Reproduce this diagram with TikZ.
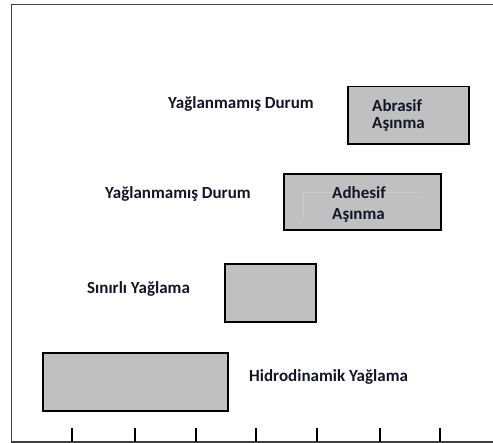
\documentclass[tikz,border=0pt]{standalone}
\usepackage{fontspec}
\setmainfont{Carlito}
\definecolor{boxgray}{HTML}{C0C0C0}
\definecolor{txt}{HTML}{141428}
\begin{document}
\begin{tikzpicture}[x=1pt,y=-1pt,
  bar/.style={draw=black,line width=1.4pt,fill=boxgray},
  lbl/.style={font=\fontsize{17}{19}\selectfont\bfseries,text=txt,inner sep=0pt,anchor=west},
  frame/.style={draw=black!75,line width=1.3pt},
  tick/.style={draw=black,line width=1.1pt}]
\useasboundingbox (0,0) rectangle (493,443);
% frame
\draw[frame] (493,4.5) -- (11.5,4.5) -- (11.5,442) -- (493,442);
% ticks
\foreach \x in {72,135,196,256,317,380,440}
  \draw[tick] (\x,428) -- (\x,442);
% boxes
\draw[bar] (348,86.5) rectangle (469,144) node[pos=0.5] (abr) {};
\draw[bar] (284,174) rectangle (441,230) node[pos=0.5] (adh) {};
\draw[draw=black!20,line width=0.5pt] (303,219) -- (303,192) -- (418,192);
\draw[bar] (225,264) rectangle (316,322) node[pos=0.5] (sin) {};
\draw[bar] (43,353) rectangle (228,411) node[pos=0.5] (hid) {};
% labels
\node[lbl] (l1) at (168,104) {Yağlanmamış Durum};
\node[lbl] (l2) at (105,194) {Yağlanmamış Durum};
\node[lbl] (l3) at (87,289) {Sınırlı Yağlama};
\node[lbl] (l4) at (249,377) {Hidrodinamik Yağlama};
\node[lbl] (a1) at (372,106) {Abrasif};
\node[lbl] (a2) at (372,124) {Aşınma};
\node[lbl] (b1) at (332,193) {Adhesif};
\node[lbl] (b2) at (332,215) {Aşınma};
\end{tikzpicture}
\end{document}
